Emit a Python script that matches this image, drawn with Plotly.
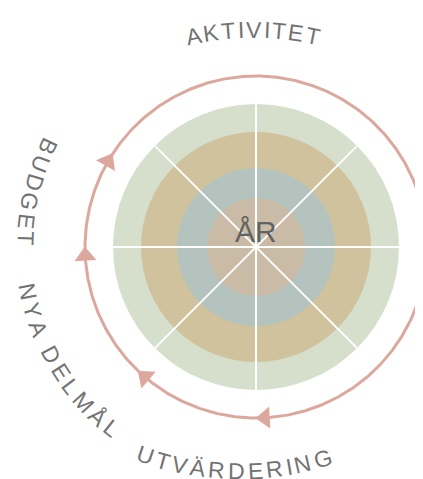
import math
import numpy as np
import plotly.graph_objects as go

# ---- data ----
ring_names = ["Yttre", "Tredje", "Andra", "Inre"]
ring_values = [143, 115, 79, 49]
ring_colors = ["#d5dfcb", "#d1c29e", "#b4c3bd", "#c9bba6"]
sector_count = 8
center_label = "ÅR"
cycle_labels = ["AKTIVITET", "BUDGET", "NYA DELMÅL", "UTVÄRDERING"]
label_angles = [90, 166, 211, 269]
label_radii = [300, 231, 232, 289]
label_centers_x = [-3, 0, 0, -17]
label_centers_y = [-83, 0, 0, 65]
label_outward = [True, False, False, False]
label_spacing = [2.2, 2.8, 3.6, 3.0]
cycle_radius = 171
arrow_angles = [150, 183, 229.5, 273]

TEXT_COLOR = "#737373"
ARC_COLOR = "#dca89e"
FONT = "Liberation Sans, Arial, sans-serif"
FS = 23

# Arial-like advance widths (per 1000 em)
W = {"A": 667, "B": 667, "D": 722, "E": 667, "G": 778, "I": 278, "K": 667,
     "L": 556, "M": 833, "N": 722, "R": 722, "T": 611, "U": 722, "V": 667,
     "Y": 667, "Å": 667, "Ä": 667, " ": 278}

fig = go.Figure()

# rings
shapes = []
for name, r, c in zip(ring_names, ring_values, ring_colors):
    shapes.append(dict(type="circle", xref="x", yref="y", x0=-r, y0=-r, x1=r, y1=r,
                       fillcolor=c, line=dict(width=0), layer="below"))

# radial sector lines
R = ring_values[0]
for k in range(sector_count // 2):
    a = math.radians(k * 360 / sector_count)
    fig.add_trace(go.Scatter(x=[-R * math.cos(a), R * math.cos(a)],
                             y=[-R * math.sin(a), R * math.sin(a)],
                             mode="lines", line=dict(color="white", width=2),
                             hoverinfo="skip", showlegend=False))

# cycle arc
t = np.linspace(0, 2 * np.pi, 721)
fig.add_trace(go.Scatter(x=cycle_radius * np.cos(t), y=cycle_radius * np.sin(t),
                         mode="lines", line=dict(color=ARC_COLOR, width=3),
                         hoverinfo="skip", showlegend=False))

# arrowheads (clockwise direction)
ax = [cycle_radius * math.cos(math.radians(p)) for p in arrow_angles]
ay = [cycle_radius * math.sin(math.radians(p)) for p in arrow_angles]
fig.add_trace(go.Scatter(x=ax, y=ay, mode="markers",
                         marker=dict(symbol="triangle-up", size=19, color=ARC_COLOR,
                                     angle=[180 - p for p in arrow_angles],
                                     line=dict(width=0)),
                         hoverinfo="skip", showlegend=False))

annotations = []


def norm(a):
    while a > 180:
        a -= 360
    while a <= -180:
        a += 360
    return a


for text, mid, r, cx, cy, outward, sp in zip(cycle_labels, label_angles, label_radii,
                                             label_centers_x, label_centers_y,
                                             label_outward, label_spacing):
    widths = [W[ch] * FS / 1000 for ch in text]
    total = sum(widths) + sp * (len(text) - 1)
    s = -total / 2
    for ch, w in zip(text, widths):
        sc = s + w / 2
        s += w + sp
        if ch == " ":
            continue
        if outward:
            phi = mid - math.degrees(sc / r)
            ang = 90 - phi
        else:
            phi = mid + math.degrees(sc / r)
            ang = -(phi + 90)
        x = cx + r * math.cos(math.radians(phi))
        y = cy + r * math.sin(math.radians(phi))
        annotations.append(dict(x=x, y=y, xref="x", yref="y", text=ch,
                                showarrow=False, textangle=norm(ang),
                                xanchor="center", yanchor="middle",
                                font=dict(family=FONT, size=FS, color=TEXT_COLOR)))

annotations.append(dict(x=0, y=16, xref="x", yref="y", text=center_label,
                        showarrow=False, xanchor="center", yanchor="middle",
                        font=dict(family=FONT, size=30, color="#636363")))

# page body has an 8px margin: size the figure to fill the rest of the window
fig.update_layout(
    width=415, height=471,
    margin=dict(l=0, r=0, t=0, b=0),
    paper_bgcolor="white", plot_bgcolor="white",
    xaxis=dict(range=[-248, 167], visible=False, fixedrange=True),
    yaxis=dict(range=[-232, 239], visible=False, fixedrange=True),
    shapes=shapes, annotations=annotations, showlegend=False,
)

fig.write_html("out.html")
